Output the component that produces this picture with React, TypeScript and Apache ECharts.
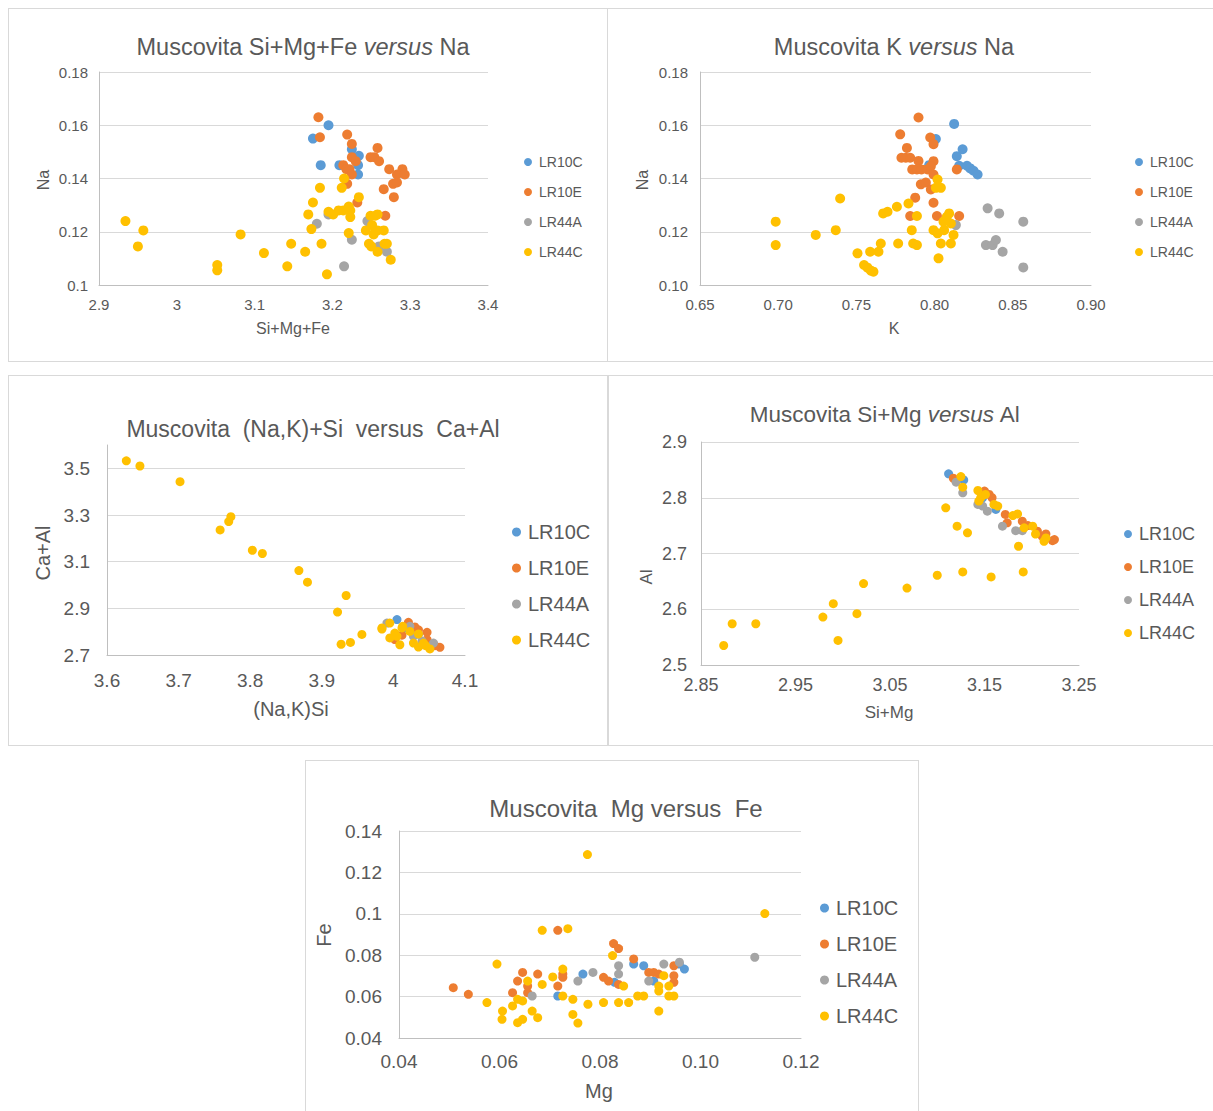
import React, { useEffect, useRef } from "react";
import * as echarts from "echarts";

// ---- shared look ----
const FONT = "'Liberation Sans', Arial, sans-serif";
const TEXT = "#595959";
const GRID_LINE = "#d9d9d9";
const AXIS_LINE = "#bfbfbf";
const SERIES_NAMES = ["LR10C", "LR10E", "LR44A", "LR44C"];
const COLORS = ["#5B9BD5", "#ED7D31", "#A5A5A5", "#FFC000"];

// ---- Si+Mg+Fe (x) vs Na (y) ----
const sfn_LR10C = [[3.175, 0.155], [3.195, 0.160], [3.185, 0.145], [3.209, 0.145], [3.225, 0.151], [3.234, 0.1485], [3.233, 0.145], [3.233, 0.1415]];
const sfn_LR10E = [[3.182, 0.163], [3.184, 0.1555], [3.219, 0.1565], [3.225, 0.153], [3.258, 0.1515], [3.225, 0.148], [3.230, 0.1465], [3.249, 0.148], [3.254, 0.148], [3.260, 0.1465], [3.214, 0.145], [3.218, 0.1435], [3.222, 0.1435], [3.225, 0.1415], [3.219, 0.138], [3.273, 0.1435], [3.290, 0.1435], [3.283, 0.1415], [3.293, 0.1415], [3.278, 0.138], [3.283, 0.1385], [3.266, 0.136], [3.279, 0.133], [3.232, 0.131], [3.268, 0.126]];
const sfn_LR44A = [[3.180, 0.123], [3.195, 0.1265], [3.245, 0.124], [3.225, 0.117], [3.260, 0.1145], [3.270, 0.1125], [3.215, 0.107]];
const sfn_LR44C = [[2.934, 0.124], [2.957, 0.1205], [2.950, 0.1145], [3.052, 0.1075], [3.052, 0.1055], [3.082, 0.119], [3.112, 0.112], [3.147, 0.1155], [3.142, 0.107], [3.165, 0.1125], [3.186, 0.1155], [3.193, 0.104], [3.173, 0.121], [3.169, 0.1265], [3.175, 0.131], [3.184, 0.1365], [3.195, 0.1275], [3.201, 0.1265], [3.208, 0.128], [3.214, 0.128], [3.221, 0.1295], [3.223, 0.1255], [3.223, 0.128], [3.234, 0.133], [3.212, 0.1365], [3.215, 0.140], [3.221, 0.1195], [3.243, 0.1205], [3.249, 0.126], [3.255, 0.126], [3.258, 0.1265], [3.251, 0.1225], [3.253, 0.119], [3.258, 0.1205], [3.266, 0.1205], [3.247, 0.1155], [3.250, 0.1145], [3.258, 0.1125], [3.267, 0.1155], [3.270, 0.1155], [3.275, 0.1095]];

// ---- K (x) vs Na (y) ----
const kn_LR10C = [[0.8125, 0.1605], [0.8008, 0.1548], [0.8179, 0.151], [0.8142, 0.1484], [0.8157, 0.1448], [0.8207, 0.1448], [0.8228, 0.1438], [0.8249, 0.1429], [0.8275, 0.1415], [0.7965, 0.145]];
const kn_LR10E = [[0.7897, 0.1629], [0.778, 0.1566], [0.7972, 0.1554], [0.7993, 0.1529], [0.7823, 0.1515], [0.7788, 0.1478], [0.7816, 0.1478], [0.7844, 0.1478], [0.7897, 0.1466], [0.7993, 0.1465], [0.7857, 0.1434], [0.7887, 0.1434], [0.7916, 0.1434], [0.7955, 0.1434], [0.7976, 0.1446], [0.8142, 0.1434], [0.7993, 0.1415], [0.7912, 0.1378], [0.7944, 0.1385], [0.7976, 0.1359], [0.7993, 0.1309], [0.7876, 0.1328], [0.7844, 0.1259], [0.8015, 0.1259], [0.8157, 0.1259]];
const kn_LR44A = [[0.8339, 0.1288], [0.8413, 0.1269], [0.8567, 0.1238], [0.8136, 0.1225], [0.8328, 0.115], [0.8371, 0.115], [0.8392, 0.1169], [0.8435, 0.1125], [0.8567, 0.1066]];
const kn_LR44C = [[0.6984, 0.1238], [0.6984, 0.115], [0.724, 0.1188], [0.7368, 0.1206], [0.7396, 0.1325], [0.7507, 0.1119], [0.7549, 0.1075], [0.7571, 0.1065], [0.7592, 0.1054], [0.7609, 0.105], [0.7588, 0.1125], [0.7641, 0.1125], [0.7656, 0.1156], [0.7671, 0.1269], [0.7699, 0.1275], [0.7759, 0.1294], [0.7767, 0.1156], [0.7833, 0.1306], [0.7854, 0.1206], [0.7863, 0.1156], [0.7887, 0.115], [0.7887, 0.1259], [0.7993, 0.1206], [0.8019, 0.1194], [0.8025, 0.11], [0.804, 0.1156], [0.8019, 0.1396], [0.8008, 0.1365], [0.804, 0.1365], [0.8057, 0.1238], [0.8104, 0.1156], [0.8121, 0.1188], [0.8093, 0.1269], [0.8078, 0.1256], [0.8104, 0.1231], [0.8061, 0.1206]];

// ---- (Na,K)+Si (x) vs Ca+Al (y) ----
const nks_LR10C = [[4.005, 2.852], [4.018, 2.815], [4.035, 2.79]];
const nks_LR10E = [[4.021, 2.84], [4.035, 2.808], [4.047, 2.797], [4.047, 2.766], [4.065, 2.733], [4.002, 2.766], [4.058, 2.74], [4.03, 2.82], [4.012, 2.785]];
const nks_LR44A = [[3.991, 2.837], [4.023, 2.823], [4.028, 2.78], [4.056, 2.751], [4.04, 2.76]];
const nks_LR44C = [[3.627, 3.532], [3.646, 3.51], [3.702, 3.443], [3.773, 3.293], [3.77, 3.272], [3.758, 3.236], [3.803, 3.149], [3.817, 3.135], [3.868, 3.062], [3.88, 3.012], [3.934, 2.955], [3.922, 2.884], [3.927, 2.746], [3.94, 2.754], [3.956, 2.788], [3.984, 2.811], [3.995, 2.837], [3.984, 2.816], [4.012, 2.816], [4.002, 2.794], [3.995, 2.773], [4.009, 2.744], [4.028, 2.751], [4.035, 2.734], [4.051, 2.726], [4.042, 2.751], [4.035, 2.79], [4.023, 2.801], [4.013, 2.823], [4.005, 2.78], [4.045, 2.74]];

// ---- Si+Mg (x) vs Al (y) ----
const sma_LR10C = [[3.112, 2.843], [3.128, 2.832], [3.162, 2.779], [3.148, 2.8]];
const sma_LR10E = [[3.117, 2.835], [3.155, 2.806], [3.158, 2.8], [3.172, 2.77], [3.174, 2.755], [3.19, 2.758], [3.206, 2.74], [3.211, 2.731], [3.222, 2.723], [3.224, 2.725], [3.15, 2.812], [3.196, 2.75], [3.215, 2.735]];
const sma_LR44A = [[3.12, 2.828], [3.127, 2.809], [3.143, 2.788], [3.153, 2.776], [3.169, 2.749], [3.183, 2.741], [3.19, 2.741], [3.148, 2.785]];
const sma_LR44C = [[2.874, 2.535], [2.883, 2.574], [2.908, 2.574], [2.979, 2.586], [2.99, 2.61], [2.995, 2.544], [3.015, 2.592], [3.022, 2.646], [3.068, 2.638], [3.1, 2.661], [3.127, 2.667], [3.157, 2.658], [3.191, 2.667], [3.186, 2.713], [3.109, 2.782], [3.121, 2.749], [3.132, 2.737], [3.125, 2.838], [3.127, 2.819], [3.143, 2.813], [3.144, 2.794], [3.151, 2.806], [3.164, 2.785], [3.16, 2.788], [3.18, 2.768], [3.185, 2.771], [3.192, 2.746], [3.201, 2.749], [3.204, 2.735], [3.213, 2.722], [3.215, 2.728], [3.146, 2.8]];

// ---- Mg (x) vs Fe (y) ----
const mf_LR10C = [[0.0716, 0.0603], [0.0766, 0.0709], [0.0829, 0.0669], [0.0867, 0.0757], [0.0887, 0.0749], [0.0907, 0.0675], [0.0958, 0.0757], [0.0968, 0.0733]];
const mf_LR10E = [[0.0508, 0.0643], [0.0538, 0.0611], [0.0626, 0.0619], [0.0636, 0.0675], [0.0646, 0.0717], [0.0656, 0.0651], [0.0656, 0.0619], [0.0676, 0.0709], [0.0716, 0.092], [0.0716, 0.0651], [0.0726, 0.0709], [0.0726, 0.0693], [0.0827, 0.0856], [0.0837, 0.0832], [0.0807, 0.0693], [0.0817, 0.0675], [0.0837, 0.0659], [0.0867, 0.0782], [0.0897, 0.0717], [0.0907, 0.0717], [0.0917, 0.0709], [0.0947, 0.0749], [0.0947, 0.0701], [0.0947, 0.0669]];
const mf_LR44A = [[0.0665, 0.0603], [0.0756, 0.0675], [0.0786, 0.0717], [0.0837, 0.0749], [0.0837, 0.0709], [0.0897, 0.0675], [0.0927, 0.0757], [0.0958, 0.0766], [0.1108, 0.079]];
const mf_LR44C = [[0.0775, 0.1286], [0.1128, 0.1001], [0.0685, 0.092], [0.0736, 0.0928], [0.0595, 0.0757], [0.0825, 0.0798], [0.0726, 0.0733], [0.0656, 0.0675], [0.0685, 0.0659], [0.0706, 0.0695], [0.0726, 0.0603], [0.0746, 0.0587], [0.0847, 0.0651], [0.0927, 0.0701], [0.0917, 0.0651], [0.0917, 0.0627], [0.0937, 0.0651], [0.0937, 0.0603], [0.0947, 0.0603], [0.0875, 0.0603], [0.0887, 0.0603], [0.0575, 0.0571], [0.0606, 0.053], [0.0605, 0.049], [0.0626, 0.0555], [0.0636, 0.0587], [0.0646, 0.0579], [0.0636, 0.0474], [0.0646, 0.049], [0.0665, 0.053], [0.0676, 0.0498], [0.0746, 0.0514], [0.0756, 0.0472], [0.0776, 0.0563], [0.0807, 0.0571], [0.0837, 0.0571], [0.0857, 0.0571], [0.0917, 0.053]];

// tick label styles
const general = (v: number) => String(parseFloat(v.toFixed(4)));
const fixed2 = (v: number) => v.toFixed(2);

type Axis = { min: number; max: number; interval: number; fmt: (v: number) => string; hideMax?: boolean };
type Panel = {
  box: { left: number; top: number; width: number; height: number; noRight?: boolean; noBottom?: boolean };
  grid: { left: number; top: number; width: number; height: number };
  x: Axis;
  y: Axis;
  tickFont: number;
  xMargin: number;
  yMargin: number;
  title: { text: string; x: number; y: number; size: number };
  xName: { text: string; x: number; y: number; size: number };
  yName: { text: string; x: number; y: number; size: number };
  legend: { left: number; top: number; font: number; lineHeight: number; gap: number; icon: number };
  symbolSize: number;
  data: number[][][];
};

const PANELS: Panel[] = [
  {
    box: { left: 8, top: 8, width: 600, height: 354 },
    grid: { left: 90, top: 63, width: 389, height: 213 },
    x: { min: 2.9, max: 3.4, interval: 0.1, fmt: general },
    y: { min: 0.1, max: 0.18, interval: 0.02, fmt: general },
    tickFont: 15, xMargin: 12, yMargin: 11,
    title: { text: "Muscovita Si+Mg+Fe {i|versus} Na", x: 294, y: 38, size: 23.5 },
    xName: { text: "Si+Mg+Fe", x: 284, y: 319, size: 16 },
    yName: { text: "Na", x: 34, y: 171, size: 16 },
    legend: { left: 515, top: 145, font: 14, lineHeight: 16, gap: 14, icon: 8 },
    symbolSize: 10,
    data: [sfn_LR10C, sfn_LR10E, sfn_LR44A, sfn_LR44C],
  },
  {
    box: { left: 607, top: 8, width: 606, height: 354, noRight: true },
    grid: { left: 92, top: 63, width: 391, height: 213 },
    x: { min: 0.65, max: 0.9, interval: 0.05, fmt: fixed2 },
    y: { min: 0.1, max: 0.18, interval: 0.02, fmt: fixed2 },
    tickFont: 15, xMargin: 12, yMargin: 12,
    title: { text: "Muscovita K {i|versus} Na", x: 286, y: 38, size: 23.5 },
    xName: { text: "K", x: 286, y: 319, size: 16 },
    yName: { text: "Na", x: 34, y: 171, size: 16 },
    legend: { left: 527, top: 145, font: 14, lineHeight: 16, gap: 14, icon: 8 },
    symbolSize: 10,
    data: [kn_LR10C, kn_LR10E, kn_LR44A, kn_LR44C],
  },
  {
    box: { left: 8, top: 375, width: 600, height: 371 },
    grid: { left: 98, top: 69, width: 358, height: 210 },
    x: { min: 3.6, max: 4.1, interval: 0.1, fmt: general },
    y: { min: 2.7, max: 3.6, interval: 0.2, fmt: general, hideMax: true },
    tickFont: 19, xMargin: 16, yMargin: 17,
    title: { text: "Muscovita  (Na,K)+Si  versus  Ca+Al", x: 304, y: 53, size: 23 },
    xName: { text: "(Na,K)Si", x: 282, y: 333, size: 20 },
    yName: { text: "Ca+Al", x: 34, y: 177, size: 20 },
    legend: { left: 503, top: 145, font: 20, lineHeight: 22, gap: 14, icon: 9 },
    symbolSize: 9,
    data: [nks_LR10C, nks_LR10E, nks_LR44A, nks_LR44C],
  },
  {
    box: { left: 608, top: 375, width: 605, height: 371, noRight: true },
    grid: { left: 92, top: 66, width: 378, height: 223 },
    x: { min: 2.85, max: 3.25, interval: 0.1, fmt: general },
    y: { min: 2.5, max: 2.9, interval: 0.1, fmt: general },
    tickFont: 18, xMargin: 11, yMargin: 14,
    title: { text: "Muscovita Si+Mg {i|versus} Al", x: 276, y: 38, size: 22.5 },
    xName: { text: "Si+Mg", x: 280, y: 336, size: 17 },
    yName: { text: "Al", x: 37, y: 201, size: 17 },
    legend: { left: 515, top: 148, font: 18, lineHeight: 20, gap: 13, icon: 8 },
    symbolSize: 9,
    data: [sma_LR10C, sma_LR10E, sma_LR44A, sma_LR44C],
  },
  {
    box: { left: 305, top: 760, width: 614, height: 351, noBottom: true },
    grid: { left: 93, top: 70, width: 402, height: 207 },
    x: { min: 0.04, max: 0.12, interval: 0.02, fmt: fixed2 },
    y: { min: 0.04, max: 0.14, interval: 0.02, fmt: general },
    tickFont: 19, xMargin: 14, yMargin: 17,
    title: { text: "Muscovita  Mg versus  Fe", x: 320, y: 47, size: 24 },
    xName: { text: "Mg", x: 293, y: 330, size: 20 },
    yName: { text: "Fe", x: 18, y: 174, size: 20 },
    legend: { left: 514, top: 136, font: 20, lineHeight: 22, gap: 14, icon: 9 },
    symbolSize: 9,
    data: [mf_LR10C, mf_LR10E, mf_LR44A, mf_LR44C],
  },
];

function textEl(t: { text: string; x: number; y: number; size: number }, rotate = false) {
  return {
    type: "text",
    x: t.x,
    y: t.y,
    rotation: rotate ? Math.PI / 2 : 0,
    silent: true,
    style: {
      text: t.text,
      fill: TEXT,
      fontSize: t.size,
      fontFamily: FONT,
      align: "center",
      verticalAlign: "middle",
      textAlign: "center",
      textVerticalAlign: "middle",
      rich: {
        i: { fontStyle: "italic", fontSize: t.size, fontFamily: FONT, fill: TEXT },
      },
    },
  };
}

function axisOption(a: Axis, p: Panel, isY: boolean) {
  return {
    type: "value",
    min: a.min,
    max: a.max,
    interval: a.interval,
    axisLine: { show: true, onZero: false, lineStyle: { color: AXIS_LINE, width: 1 } },
    axisTick: { show: false },
    splitLine: isY
      ? { show: true, showMaxLine: !a.hideMax, lineStyle: { color: GRID_LINE, width: 1 } }
      : { show: false },
    axisLabel: {
      color: TEXT,
      fontSize: p.tickFont,
      fontFamily: FONT,
      margin: isY ? p.yMargin : p.xMargin,
      showMaxLabel: a.hideMax ? false : true,
      showMinLabel: true,
      formatter: (v: number) => a.fmt(v),
    },
  };
}

function buildOption(p: Panel) {
  return {
    animation: false,
    textStyle: { fontFamily: FONT },
    grid: { ...p.grid, containLabel: false },
    xAxis: axisOption(p.x, p, false),
    yAxis: axisOption(p.y, p, true),
    legend: {
      orient: "vertical",
      left: p.legend.left,
      top: p.legend.top,
      padding: 0,
      itemGap: p.legend.gap,
      itemWidth: p.legend.icon,
      itemHeight: p.legend.icon,
      icon: "circle",
      selectedMode: false,
      textStyle: {
        color: TEXT,
        fontSize: p.legend.font,
        fontFamily: FONT,
        lineHeight: p.legend.lineHeight,
        padding: [0, 0, 0, 2],
      },
      data: SERIES_NAMES,
    },
    series: SERIES_NAMES.map((name, i) => ({
      type: "scatter",
      name,
      data: p.data[i],
      symbol: "circle",
      symbolSize: p.symbolSize,
      itemStyle: { color: COLORS[i], opacity: 1 },
      emphasis: { disabled: true },
    })),
    graphic: [textEl(p.title), textEl(p.xName), textEl(p.yName, true)],
  };
}

function ChartPanel({ panel }: { panel: Panel }) {
  const ref = useRef<HTMLDivElement>(null);
  useEffect(() => {
    if (!ref.current) return;
    const chart = echarts.init(ref.current, undefined, { renderer: "svg" });
    chart.setOption(buildOption(panel) as any);
    return () => chart.dispose();
  }, [panel]);
  const b = panel.box;
  return (
    <div
      style={{
        position: "absolute",
        left: b.left,
        top: b.top,
        width: b.width,
        height: b.height,
        boxSizing: "border-box",
        border: "1px solid #d9d9d9",
        borderRight: b.noRight ? "none" : "1px solid #d9d9d9",
        borderBottom: b.noBottom ? "none" : "1px solid #d9d9d9",
        background: "#ffffff",
      }}
    >
      <div ref={ref} style={{ position: "absolute", left: 0, top: 0, width: "100%", height: "100%" }} />
    </div>
  );
}

export default function App() {
  useEffect(() => {
    document.documentElement.style.overflow = "hidden";
    document.body.style.overflow = "hidden";
  }, []);
  return (
    <div>
      {PANELS.map((p, i) => (
        <ChartPanel key={i} panel={p} />
      ))}
    </div>
  );
}
